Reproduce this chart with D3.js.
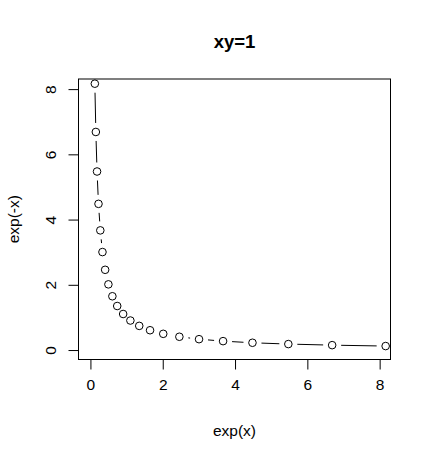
<!DOCTYPE html>
<html>
<head>
<meta charset="utf-8">
<script src="https://cdn.jsdelivr.net/npm/d3@7"></script>
<style>
  body { margin: 0; background: #fff; }
  svg { display: block; }
  text { font-family: "Liberation Sans", Arial, sans-serif; fill: #000; }
</style>
</head>
<body>
<svg width="431" height="458"></svg>
<script>
// values
const xValues = [0.122, 0.150, 0.183, 0.223, 0.273, 0.333, 0.407, 0.497, 0.607, 0.741, 0.905,
                 1.105, 1.350, 1.649, 2.014, 2.460, 3.004, 3.669, 4.482, 5.474, 6.686, 8.166];
const yValues = [8.166, 6.686, 5.474, 4.482, 3.669, 3.004, 2.460, 2.014, 1.649, 1.350, 1.105,
                 0.905, 0.741, 0.607, 0.497, 0.407, 0.333, 0.273, 0.223, 0.183, 0.150, 0.122];
const xTicks = [0, 2, 4, 6, 8];
const yTicks = [0, 2, 4, 6, 8];
const title = 'xy=1';
const xLabel = 'exp(x)';
const yLabel = 'exp(-x)';

const svg = d3.select('svg');

const box = { left: 78.5, right: 390.5, top: 79, bottom: 359.5 };

const x = d3.scaleLinear().domain([-0.33, 8.3]).range([box.left, box.right]);
const y = d3.scaleLinear().domain([-0.29, 8.31]).range([box.bottom, box.top]);

const pts = xValues.map((d, i) => [x(d), y(yValues[i])]);

// type = "b": segments with a gap around each point
const gap = 9;
const segs = [];
for (let i = 0; i < pts.length - 1; i++) {
    const [x0, y0] = pts[i], [x1, y1] = pts[i + 1];
    const len = Math.hypot(x1 - x0, y1 - y0);
    if (len > 2 * gap) {
        const ux = (x1 - x0) / len, uy = (y1 - y0) / len;
        segs.push([x0 + ux * gap, y0 + uy * gap, x1 - ux * gap, y1 - uy * gap]);
    }
}

svg.append('g').selectAll('line').data(segs)
    .enter().append('line')
    .attr('x1', d => d[0]).attr('y1', d => d[1])
    .attr('x2', d => d[2]).attr('y2', d => d[3])
    .attr('stroke', '#000').attr('stroke-width', 1);

svg.append('g').selectAll('circle').data(pts)
    .enter().append('circle')
    .attr('cx', d => d[0]).attr('cy', d => d[1])
    .attr('r', 3.8)
    .attr('fill', 'none').attr('stroke', '#000').attr('stroke-width', 1);

// box
svg.append('rect')
    .attr('x', box.left).attr('y', box.top)
    .attr('width', box.right - box.left).attr('height', box.bottom - box.top)
    .attr('fill', 'none').attr('stroke', '#000').attr('stroke-width', 1);

// axes
const xAxis = d3.axisBottom(x).tickValues(xTicks).tickSize(10).tickPadding(9).tickFormat(d3.format('d'));
const gx = svg.append('g').attr('transform', `translate(0,${box.bottom})`).call(xAxis);
gx.select('.domain').attr('d', `M${x(xTicks[0])},0H${x(xTicks[xTicks.length - 1])}`);

const yAxis = d3.axisLeft(y).tickValues(yTicks).tickSize(10).tickPadding(0).tickFormat(d3.format('d'));
const gy = svg.append('g').attr('transform', `translate(${box.left},0)`).call(yAxis);
gy.select('.domain').attr('d', `M0,${y(yTicks[0])}V${y(yTicks[yTicks.length - 1])}`);

[gx, gy].forEach(g => {
    g.attr('font-family', null).attr('font-size', null);
    g.selectAll('.domain, .tick line').attr('stroke', '#000');
    g.selectAll('text').style('font-size', '15.5px');
});

gy.selectAll('.tick text')
    .attr('x', null).attr('dy', null)
    .attr('text-anchor', 'middle')
    .attr('transform', 'translate(-28,0) rotate(-90)')
    .attr('dy', '0.35em');

// titles
svg.append('text')
    .attr('x', (box.left + box.right) / 2).attr('y', 48)
    .attr('text-anchor', 'middle')
    .style('font-size', '18.5px').style('font-weight', 'bold')
    .text(title);

svg.append('text')
    .attr('x', (box.left + box.right) / 2).attr('y', 436)
    .attr('text-anchor', 'middle')
    .style('font-size', '15.5px')
    .text(xLabel);

svg.append('text')
    .attr('transform', `translate(19,${(box.top + box.bottom) / 2}) rotate(-90)`)
    .attr('text-anchor', 'middle')
    .style('font-size', '15.5px')
    .text(yLabel);
</script>
</body>
</html>
